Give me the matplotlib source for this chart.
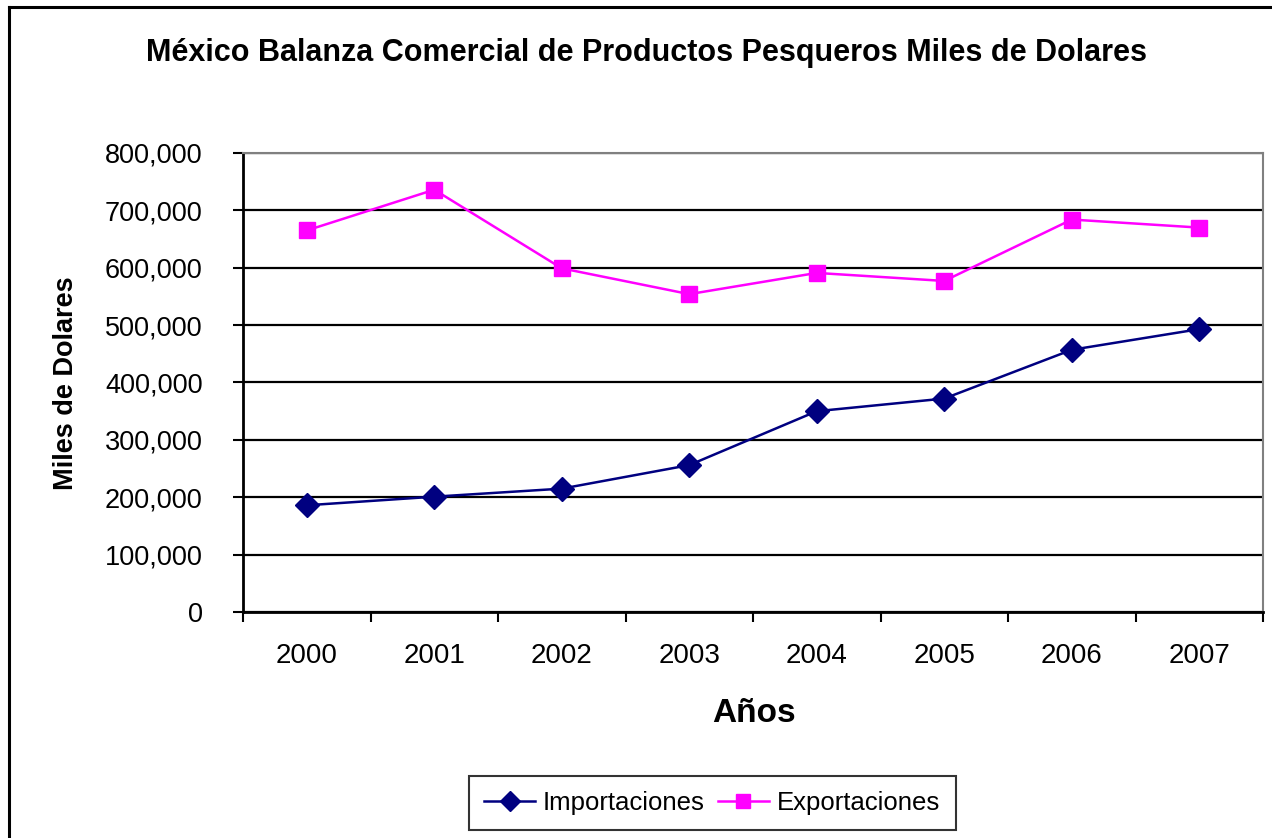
import numpy as np
import matplotlib
matplotlib.use('Agg')
import matplotlib.pyplot as plt
from matplotlib.lines import Line2D
from matplotlib.ticker import FuncFormatter

plt.rcParams['font.family'] = ['Liberation Sans', 'DejaVu Sans']

# data (miles de dolares)
anios = ['2000', '2001', '2002', '2003', '2004', '2005', '2006', '2007']
importaciones = [186000, 201000, 215000, 256000, 350000, 372000, 457000, 493000]
exportaciones = [665000, 736000, 599000, 554000, 591000, 577000, 684000, 670000]

W, H = 1272, 838
fig = plt.figure(figsize=(W / 100, H / 100), dpi=100, facecolor='white')

# plot area in pixel coords: x 243..1263, y 153..612
ax = fig.add_axes([243 / W, 1 - 612 / H, 1020 / W, 459 / H])

x = np.arange(len(anios))
ax.plot(x, importaciones, color='#000080', lw=1.8, marker='D', ms=12,
        mfc='#000080', mec='#000080', label='Importaciones', zorder=3)
ax.plot(x, exportaciones, color='#FF00FF', lw=1.8, marker='s', ms=11.5,
        mfc='#FF00FF', mec='#FF00FF', label='Exportaciones', zorder=3)

ax.set_xlim(-0.5, len(anios) - 0.5)
ax.set_ylim(0, 800000)
ax.set_yticks(np.arange(0, 800001, 100000))
ax.yaxis.set_major_formatter(FuncFormatter(lambda v, p: f'{int(v):,}'))
ax.grid(axis='y', color='black', lw=1.6)
ax.set_axisbelow(True)

# category boundaries get tick marks, labels sit in the middle
ax.set_xticks(np.arange(-0.5, len(anios)))
ax.set_xticklabels([])
ax.set_xticks(x, minor=True)
ax.set_xticklabels(anios, minor=True)
ax.tick_params(axis='x', which='major', direction='out', length=7, width=1.5, color='black')
ax.tick_params(axis='x', which='minor', length=0, pad=22, labelsize=20)
ax.tick_params(axis='y', direction='out', length=7, width=1.5, pad=22, labelsize=19.5)

for s in ['top', 'right']:
    ax.spines[s].set_color('#808080')
    ax.spines[s].set_linewidth(1.5)
for s in ['left', 'bottom']:
    ax.spines[s].set_color('black')
    ax.spines[s].set_linewidth(2)

fig.text(647 / W, 1 - 53 / H,
         'México Balanza Comercial de Productos Pesqueros Miles de Dolares',
         ha='center', va='center', fontsize=22, fontweight='bold')
fig.text(66 / W, 1 - 383 / H, 'Miles de Dolares', rotation=90,
         ha='center', va='center', fontsize=19.5, fontweight='bold')
fig.text(754 / W, 1 - 713 / H, 'Años', ha='center', va='center',
         fontsize=24, fontweight='bold')

leg = fig.legend(loc='center', bbox_to_anchor=(712 / W, 1 - 803 / H), ncol=2,
                 fontsize=18.5, frameon=True, fancybox=False, edgecolor='black',
                 handlelength=2.0, handletextpad=0.3, columnspacing=0.5,
                 borderpad=0.6, markerscale=0.85)
leg.get_frame().set_linewidth(1.5)

# outer chart border (right and bottom fall outside the picture)
fig.add_artist(Line2D([9 / W, 9 / W], [0, 1 - 7 / H], color='black', lw=2.2))
fig.add_artist(Line2D([9 / W, 1], [1 - 7 / H, 1 - 7 / H], color='black', lw=2.2))

plt.savefig('out.png', dpi=100, facecolor='white')
plt.close()
